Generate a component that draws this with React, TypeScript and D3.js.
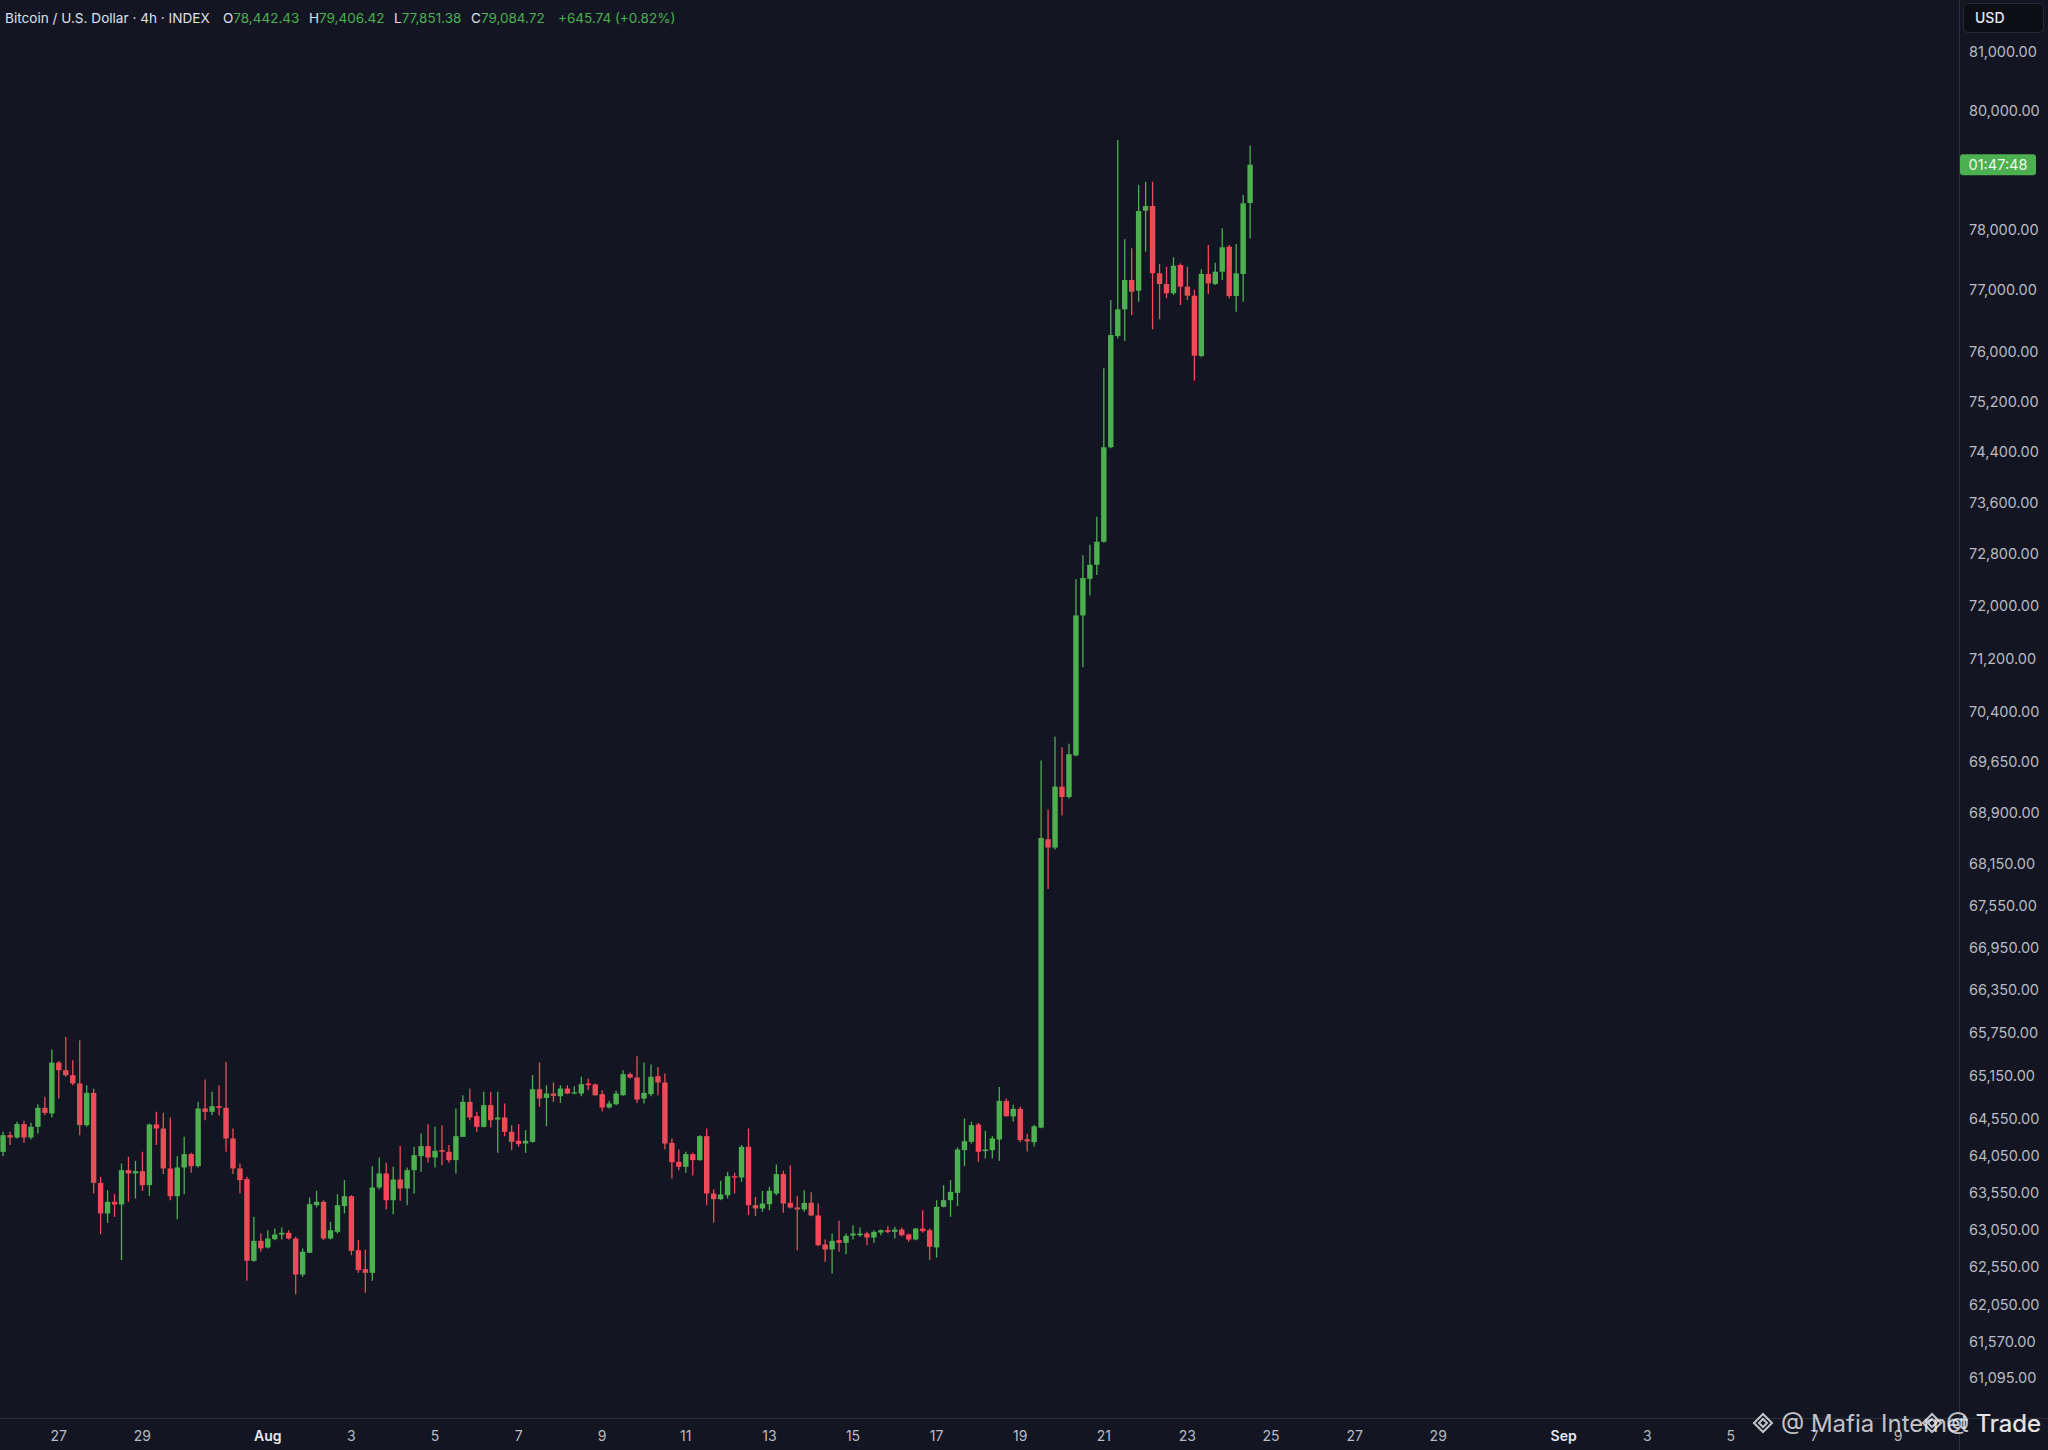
import { useEffect, useRef } from 'react'
import * as d3 from 'd3'

// 4h candles, first bar opens Jul 25 16:00
const firstBar = new Date(2025, 6, 25, 16, 0)
const barHours = 4

const opens = [
  64106, 64334, 64302, 64485, 64302, 64448, 64709, 64631, 65335, 65229,
  65160, 65045, 64471, 64915, 63685, 63271, 63428, 63392, 63857, 63812,
  63843, 63653, 64480, 64425, 63880, 63504, 63893, 64075, 63911, 64700,
  64654, 64732, 64709, 64289, 63880, 63735, 62637, 62904, 62815, 62926,
  62988, 63011, 62935, 62455, 62744, 63383, 63428, 62935, 63024, 63370,
  63504, 62779, 62526, 62477, 63622, 63812, 63450, 63730, 63608, 63857,
  64047, 64184, 64029, 64129, 64107, 63993, 64311, 64791, 64594, 64448,
  64746, 64548, 64576, 64380, 64257, 64220, 64243, 64966, 64846, 64906,
  64869, 64975, 64906, 64906, 65045, 65031, 64897, 64714, 64759, 64883,
  65174, 65128, 64837, 64897, 65146, 65059, 64229, 63970, 63902, 64075,
  63993, 64320, 63540, 63464, 63517, 63775, 63757, 64175, 63383, 63338,
  63396, 63540, 63803, 63414, 63352, 63325, 63414, 63244, 62855, 62788,
  62913, 62877, 62975, 62979, 63002, 62948, 63015, 63046, 63024, 63055,
  62988, 62922, 63068, 63046, 62815, 63361, 63450, 63549, 64129, 64243,
  64480, 64116, 64129, 64275, 64805, 64591, 64695, 64277, 64237, 64437,
  68514, 68393, 69285, 69132, 69745, 71855, 72415, 72633, 72990, 74471,
  76254, 76688, 77169, 76993, 78314, 78393, 77279, 77103, 76951, 77415,
  77059, 76911, 75931, 77268, 77103, 77305, 77717, 76906, 77268, 78442.43,
]

const highs = [
  64380, 64380, 64517, 64530, 64503, 64759, 64860, 65516, 65358, 65693,
  65367, 65646, 65021, 64975, 63766, 63586, 63531, 63947, 64038, 63984,
  64107, 64494, 64654, 64640, 64576, 64047, 64311, 64093, 64791, 65100,
  64929, 65021, 65344, 64425, 63947, 63766, 63226, 63002, 63046, 63068,
  63082, 63046, 62957, 62802, 63486, 63577, 63450, 63158, 63531, 63721,
  63517, 62913, 62788, 63911, 64029, 63956, 63902, 64184, 63893, 64175,
  64357, 64485, 64448, 64471, 64198, 64700, 64883, 64975, 64654, 64929,
  64929, 64929, 64768, 64471, 64485, 64402, 65160, 65335, 65021, 65059,
  65021, 65021, 65007, 65137, 65114, 65045, 64952, 64805, 64943, 65229,
  65197, 65423, 65335, 65307, 65275, 65183, 64289, 64138, 64107, 64093,
  64334, 64425, 63595, 63712, 63834, 63821, 64198, 64425, 63495, 63577,
  63631, 63934, 63848, 63925, 63504, 63586, 63558, 63405, 62922, 63002,
  63172, 63002, 63113, 63082, 63024, 63046, 63055, 63100, 63091, 63082,
  63002, 63077, 63316, 63068, 63450, 63653, 63721, 64166, 64562, 64517,
  64503, 64393, 64320, 64998, 64837, 64751, 64723, 64352, 64477, 69671,
  68950, 70023, 69868, 69918, 72409, 72781, 72941, 73379, 75733, 76841,
  79501, 77839, 77690, 78744, 78799, 78799, 77432, 77387, 77542, 77443,
  77387, 77005, 77345, 77745, 77453, 78022, 77745, 77761, 78576, 79406.42,
]

const lows = [
  64047, 64198, 64289, 64229, 64275, 64357, 64608, 64576, 64837, 65137,
  65021, 64334, 64448, 63540, 62993, 63145, 63226, 62646, 63428, 63473,
  63577, 63508, 64198, 63803, 63450, 63195, 63531, 63821, 63893, 64539,
  64608, 64608, 64107, 63803, 63540, 62371, 62624, 62757, 62802, 62913,
  62922, 62922, 62194, 62424, 62744, 63352, 62913, 62922, 63002, 63271,
  62713, 62477, 62212, 62371, 63595, 63325, 63262, 63441, 63383, 63540,
  63834, 63956, 63893, 63925, 63956, 63812, 64311, 64539, 64380, 64439,
  64439, 64093, 64320, 64129, 64175, 64093, 64229, 64723, 64457, 64791,
  64777, 64897, 64897, 64869, 64952, 64874, 64663, 64700, 64746, 64874,
  65114, 64777, 64768, 64869, 64883, 64138, 63743, 63857, 63821, 63784,
  63984, 63383, 63145, 63450, 63473, 63540, 63698, 63249, 63235, 63294,
  63316, 63517, 63280, 63338, 62779, 63294, 63235, 62833, 62624, 62468,
  62757, 62726, 62922, 62957, 62846, 62877, 62979, 63002, 62935, 62966,
  62891, 62913, 63011, 62646, 62681, 63352, 63226, 63370, 63911, 64220,
  63970, 64015, 64015, 63984, 64585, 64522, 64237, 64111, 64180, 64428,
  67792, 68363, 68859, 69108, 69734, 71067, 72160, 72475, 72975, 74455,
  76216, 76177, 76596, 76813, 77634, 76364, 76526, 76869, 76921, 76759,
  76841, 75533, 75910, 76939, 77087, 77169, 76869, 76650, 76813, 77851.38,
]

const closes = [
  64334, 64302, 64485, 64302, 64448, 64709, 64640, 65335, 65229, 65160,
  65045, 64471, 64915, 63685, 63271, 63428, 63392, 63857, 63812, 63843,
  63653, 64480, 64425, 63880, 63504, 63893, 64075, 63911, 64700, 64654,
  64732, 64709, 64289, 63880, 63721, 62637, 62904, 62802, 62935, 62988,
  63011, 62935, 62455, 62757, 63396, 63428, 62935, 63046, 63383, 63504,
  62770, 62513, 62477, 63622, 63812, 63450, 63730, 63608, 63857, 64061,
  64184, 64029, 64120, 64107, 63993, 64320, 64791, 64576, 64448, 64746,
  64539, 64576, 64380, 64243, 64211, 64257, 64966, 64837, 64906, 64874,
  64975, 64906, 64924, 65035, 65021, 64883, 64714, 64768, 64906, 65174,
  65128, 64823, 64915, 65137, 65059, 64220, 63965, 63902, 64075, 63993,
  64320, 63540, 63464, 63527, 63775, 63757, 64175, 63383, 63338, 63405,
  63577, 63803, 63405, 63352, 63325, 63414, 63244, 62846, 62788, 62904,
  62877, 62970, 63002, 63002, 62948, 63024, 63046, 63024, 63055, 62979,
  62922, 63068, 63033, 62824, 63361, 63450, 63563, 64138, 64252, 64471,
  64107, 64138, 64289, 64805, 64594, 64695, 64266, 64249, 64455, 68532,
  68393, 69285, 69132, 69764, 71855, 72429, 72633, 72990, 74471, 76271,
  76688, 77169, 76977, 78309, 78393, 77279, 77103, 76951, 77404, 77059,
  76911, 75936, 77268, 77114, 77305, 77707, 76906, 77279, 78438.98, 79084.72,
]

const priceTicks = [
  81000, 80000, 78000, 77000, 76000, 75200, 74400, 73600, 72800, 72000,
  71200, 70400, 69650, 68900, 68150, 67550, 66950, 66350, 65750, 65150,
  64550, 64050, 63550, 63050, 62550, 62050, 61570, 61095,
]

const timeTicks: [Date, string][] = [
  [new Date(2025, 6, 27), '27'],
  [new Date(2025, 6, 29), '29'],
  [new Date(2025, 7, 1), 'Aug'],
  [new Date(2025, 7, 3), '3'],
  [new Date(2025, 7, 5), '5'],
  [new Date(2025, 7, 7), '7'],
  [new Date(2025, 7, 9), '9'],
  [new Date(2025, 7, 11), '11'],
  [new Date(2025, 7, 13), '13'],
  [new Date(2025, 7, 15), '15'],
  [new Date(2025, 7, 17), '17'],
  [new Date(2025, 7, 19), '19'],
  [new Date(2025, 7, 21), '21'],
  [new Date(2025, 7, 23), '23'],
  [new Date(2025, 7, 25), '25'],
  [new Date(2025, 7, 27), '27'],
  [new Date(2025, 7, 29), '29'],
  [new Date(2025, 8, 1), 'Sep'],
  [new Date(2025, 8, 3), '3'],
  [new Date(2025, 8, 5), '5'],
  [new Date(2025, 8, 7), '7'],
  [new Date(2025, 8, 9), '9'],
]

const headerTitle = 'Bitcoin / U.S. Dollar · 4h · INDEX'
const countdown = '01:47:48'
const change = '+645.74 (+0.82%)'

const UP = '#4caf50'
const DOWN = '#ef4a57'
const BG = '#131622'
const TEXT = '#b8bbc4'
const GRID = '#2a2e39'
const FONT = 'Inter, "Noto Sans", sans-serif'

export default function App() {
  const svgRef = useRef<SVGSVGElement>(null)

  useEffect(() => {
    if (!svgRef.current) return
    const svg = d3.select(svgRef.current)
    svg.selectAll('*').remove()

    const W = 2048
    const H = 1450
    const paneRight = 1959
    const paneBottom = 1418

    svg.attr('width', W).attr('height', H)
    svg.append('rect').attr('width', W).attr('height', H).attr('fill', BG)

    const x = d3.scaleTime()
      .domain([new Date(2025, 6, 25, 14, 14), new Date(2025, 8, 10, 11, 1)])
      .range([0, paneRight])

    const y = d3.scaleLog()
      .domain([61095, 81000])
      .range([1378, 52.2])

    const bars = opens.map((o, i) => ({
      t: new Date(firstBar.getTime() + i * barHours * 3600 * 1000),
      o, h: highs[i], l: lows[i], c: closes[i],
    }))

    const plot = svg.append('g')
    const bodyW = 5.4

    const candle = plot.selectAll('g.candle')
      .data(bars)
      .enter()
      .append('g')
      .attr('class', 'candle')

    candle.append('line')
      .attr('x1', d => x(d.t))
      .attr('x2', d => x(d.t))
      .attr('y1', d => y(d.h))
      .attr('y2', d => y(d.l))
      .attr('stroke', d => (d.c >= d.o ? UP : DOWN))
      .attr('stroke-width', 1.3)

    candle.append('rect')
      .attr('x', d => x(d.t) - bodyW / 2)
      .attr('width', bodyW)
      .attr('y', d => y(Math.max(d.o, d.c)))
      .attr('height', d => Math.max(1.2, y(Math.min(d.o, d.c)) - y(Math.max(d.o, d.c))))
      .attr('fill', d => (d.c >= d.o ? UP : DOWN))

    // pane borders
    svg.append('line')
      .attr('x1', paneRight + 0.5).attr('x2', paneRight + 0.5)
      .attr('y1', 0).attr('y2', H)
      .attr('stroke', GRID).attr('stroke-width', 1)
    svg.append('line')
      .attr('x1', 0).attr('x2', W)
      .attr('y1', paneBottom + 0.5).attr('y2', paneBottom + 0.5)
      .attr('stroke', GRID).attr('stroke-width', 1)

    // price axis
    const fmt = d3.format(',.2f')
    svg.append('g')
      .selectAll('text')
      .data(priceTicks)
      .enter()
      .append('text')
      .attr('x', 1969)
      .attr('y', d => y(d))
      .attr('dy', '0.35em')
      .attr('fill', TEXT)
      .style('font-family', FONT)
      .style('font-size', '14.5px')
      .text(d => fmt(d))

    // time axis
    svg.append('g')
      .selectAll('text')
      .data(timeTicks)
      .enter()
      .append('text')
      .attr('x', d => x(d[0]))
      .attr('y', 1436)
      .attr('dy', '0.35em')
      .attr('text-anchor', 'middle')
      .attr('fill', d => (isNaN(+d[1]) ? '#e6e8ee' : TEXT))
      .style('font-family', FONT)
      .style('font-size', '14px')
      .style('font-weight', d => (isNaN(+d[1]) ? 600 : 400))
      .text(d => d[1])

    // currency box
    svg.append('rect')
      .attr('x', 1963.5).attr('y', 3.5)
      .attr('width', 80).attr('height', 29)
      .attr('rx', 4)
      .attr('fill', '#0d0e13')
      .attr('stroke', '#262a35')
    svg.append('text')
      .attr('x', 1975).attr('y', 18).attr('dy', '0.35em')
      .attr('fill', '#e6e8ee')
      .style('font-family', FONT)
      .style('font-size', '14px')
      .style('font-weight', 500)
      .text('USD')

    // last price countdown label
    const last = bars[bars.length - 1]
    const ly = y(last.c)
    svg.append('rect')
      .attr('x', paneRight + 1).attr('y', ly - 10.5)
      .attr('width', 76).attr('height', 21)
      .attr('rx', 3)
      .attr('fill', UP)
    svg.append('text')
      .attr('x', paneRight + 39).attr('y', ly).attr('dy', '0.35em')
      .attr('text-anchor', 'middle')
      .attr('fill', '#eef6ee')
      .style('font-family', FONT)
      .style('font-size', '14.5px')
      .text(countdown)

    // header legend
    const header = svg.append('g')
      .style('font-family', FONT)
      .style('font-size', '13.5px')
    header.append('text')
      .attr('x', 5).attr('y', 18).attr('dy', '0.35em')
      .style('font-size', '13.6px')
      .attr('fill', '#dfe1e8')
      .text(headerTitle)
    const ohlc: [number, string, string][] = [
      [223, 'O', d3.format(',.2f')(last.o)],
      [309, 'H', d3.format(',.2f')(last.h)],
      [394, 'L', d3.format(',.2f')(last.l)],
      [471, 'C', d3.format(',.2f')(last.c)],
    ]
    ohlc.forEach(([px, k, v]) => {
      const t = header.append('text')
        .attr('x', px).attr('y', 18).attr('dy', '0.35em')
      t.append('tspan').attr('fill', '#dfe1e8').text(k)
      t.append('tspan').attr('fill', UP).text(v)
    })
    header.append('text')
      .attr('x', 558).attr('y', 18).attr('dy', '0.35em')
      .attr('fill', UP)
      .text(change)

    // watermark
    const wm = svg.append('g')
      .style('font-family', FONT)
      .style('font-size', '24px')
      .attr('fill', 'rgba(235,235,240,0.82)')
    const logo = (cx: number) => {
      wm.append('path')
        .attr('d', `M${cx},${1414} l9,9 l-9,9 l-9,-9 Z M${cx},${1419} l4,4 l-4,4 l-4,-4 Z`)
        .attr('fill', 'none')
        .attr('stroke', 'rgba(235,235,240,0.82)')
        .attr('stroke-width', 2)
    }
    logo(1763)
    wm.append('text').attr('x', 1781).attr('y', 1424).attr('dy', '0.35em').text('@ Mafia Internet Trade')
    logo(1932)
    wm.append('text').attr('x', 1946).attr('y', 1424).attr('dy', '0.35em').text('@ Trade')
  }, [])

  return (
    <div style={{ position: 'absolute', left: 0, top: 0, background: BG }}>
      <svg ref={svgRef} style={{ display: 'block' }}></svg>
    </div>
  )
}
